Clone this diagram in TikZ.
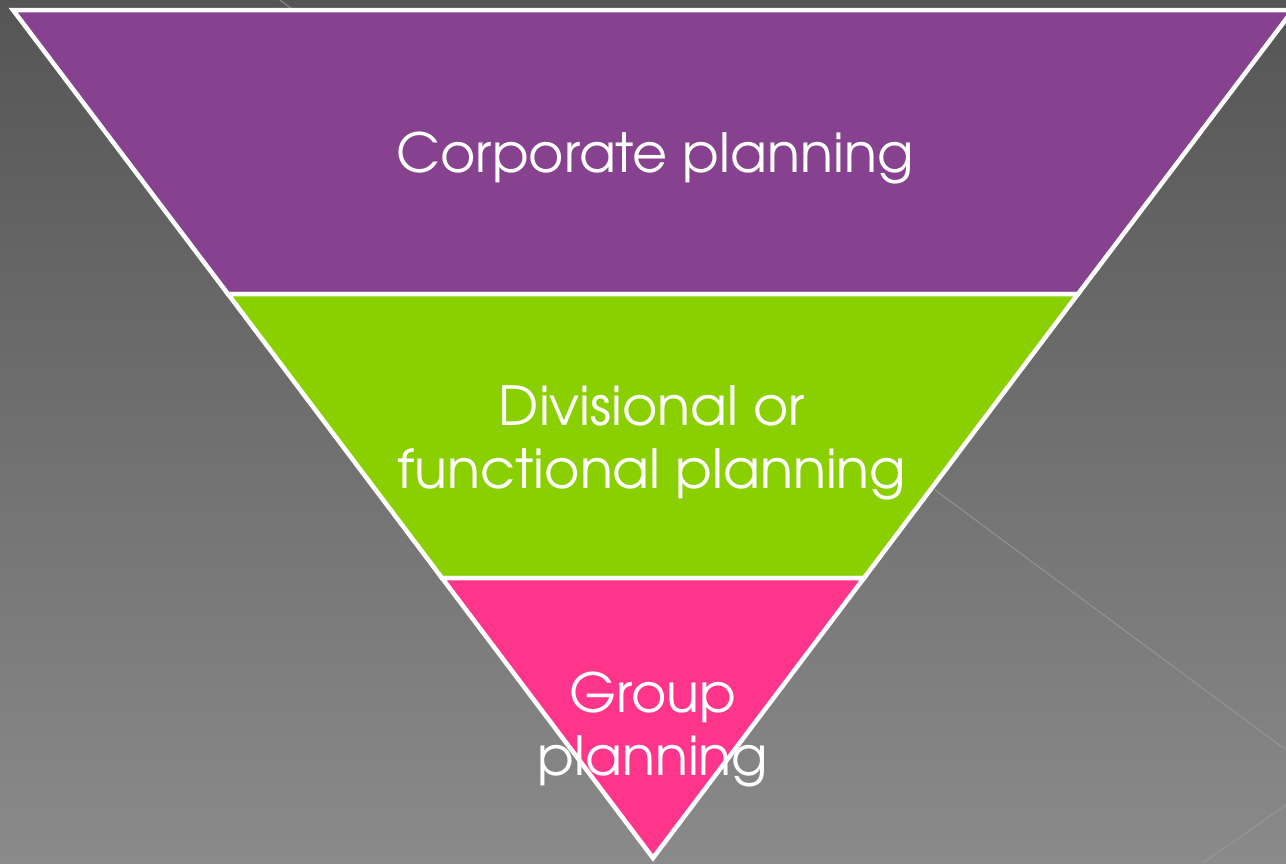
\documentclass[tikz,border=0pt]{standalone}
\usepackage{fontspec}
\setmainfont{TeX Gyre Adventor}
\definecolor{bgtop}{HTML}{555555}
\definecolor{bgbot}{HTML}{8A8A8A}
\definecolor{corp}{HTML}{86418F}
\definecolor{divi}{HTML}{8ACF00}
\definecolor{grp}{HTML}{FF358B}
\definecolor{faint}{HTML}{9A9A9A}
\tikzset{
  band/.style={draw=white, line width=4.5pt, line join=miter},
  lbl/.style={text=white, font=\fontsize{54}{63}\selectfont, align=center, inner sep=0pt},
  faintline/.style={draw=faint, line width=1.2pt, opacity=0.7}
}
\begin{document}
\begin{tikzpicture}[x=1pt,y=-1pt]
\useasboundingbox (0,0) rectangle (1286,863);
\shade[top color=bgtop, bottom color=bgbot] (0,0) rectangle (1286,863);
\coordinate (f1a) at (935,490); \coordinate (f1b) at (1286,750);
\coordinate (f2a) at (1203,863); \coordinate (f2b) at (1286,805);
\coordinate (f3a) at (280,0); \coordinate (f3b) at (292,9);
\draw[faintline] (f1a) -- (f1b);
\draw[faintline] (f2a) -- (f2b);
\draw[faintline] (f3a) -- (f3b);
% bands
\coordinate (tl) at (13,10); \coordinate (tr) at (1293,10);
\coordinate (ml) at (228,294); \coordinate (mr) at (1078,294);
\coordinate (bl) at (442,578); \coordinate (br) at (864,578);
\coordinate (apex) at (653,858);
\filldraw[band, fill=corp] (tl) -- (tr) -- (mr) -- (ml) -- cycle;
\filldraw[band, fill=divi] (ml) -- (mr) -- (br) -- (bl) -- cycle;
\filldraw[band, fill=grp] (bl) -- (br) -- (apex) -- cycle;
\node[lbl, anchor=base] (t1) at (655,172) {Corporate planning};
\node[lbl, anchor=base] (t2) at (652,488) {Divisional or\\functional planning};
\node[lbl, anchor=base] (t3) at (653,775) {Group\\planning};
\end{tikzpicture}
\end{document}
